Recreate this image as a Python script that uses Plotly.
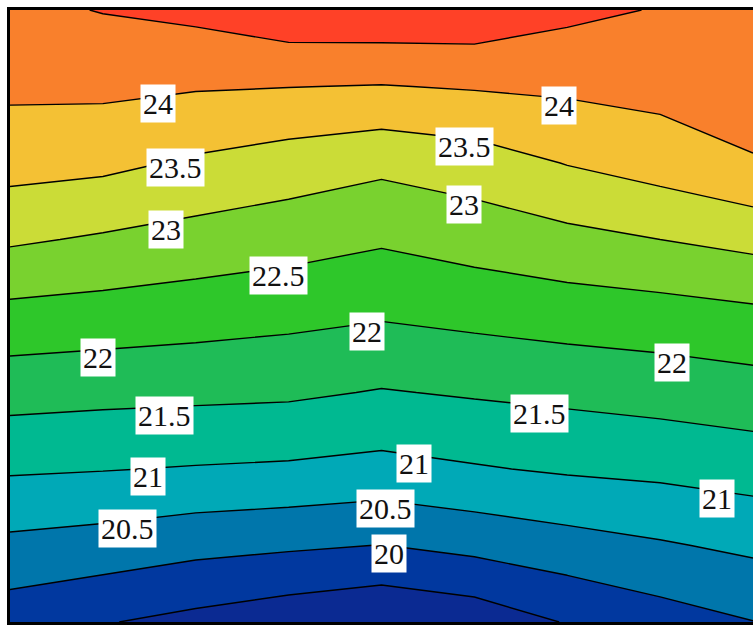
import numpy as np
import plotly.graph_objects as go

# grid coordinates (columns left->right, rows bottom->top)
x_vals = [0, 1, 2, 3, 4, 5, 6, 7, 8]
y_vals = [0, 1, 2, 3, 4, 5, 6, 7, 8]

# values, one list per row (bottom -> top)
z_row0 = [19.72, 19.53, 19.36, 19.19, 19.04, 19.19, 19.53, 19.78, 19.99]
z_row1 = [20.38, 20.29, 20.15, 20.07, 19.99, 20.14, 20.30, 20.45, 20.60]
z_row2 = [21.06, 21.02, 20.97, 20.93, 20.85, 20.96, 21.06, 21.12, 21.22]
z_row3 = [21.69, 21.64, 21.61, 21.58, 21.47, 21.55, 21.62, 21.70, 21.79]
z_row4 = [22.34, 22.28, 22.21, 22.13, 22.04, 22.13, 22.22, 22.28, 22.38]
z_row5 = [23.07, 22.94, 22.81, 22.70, 22.56, 22.71, 22.86, 23.00, 23.15]
z_row6 = [23.69, 23.62, 23.43, 23.27, 23.12, 23.26, 23.52, 23.72, 23.97]
z_row7 = [24.10, 24.11, 24.04, 24.01, 23.98, 24.04, 24.09, 24.16, 24.20]
z_row8 = [24.38, 24.52, 24.63, 24.86, 24.89, 24.87, 24.62, 24.47, 24.40]
z_rows = [z_row0, z_row1, z_row2, z_row3, z_row4, z_row5, z_row6, z_row7, z_row8]

level_start = 19.5
level_end = 24.5
level_step = 0.5

# one colour per band, lowest band first
band_colors = [
    "#0B2A92", "#01389F", "#0076AB", "#00A9B7", "#00B991", "#1FBC57",
    "#2EC72A", "#79D22F", "#CBDC37", "#F4C134", "#F9802C", "#FF4127",
]

# contour labels: level and horizontal position
label_levels = [24, 23.5, 24, 23.5, 23, 23, 22.5, 22, 22, 22,
                21.5, 21.5, 21, 21, 21, 20.5, 20.5, 20]
label_x = [1.59, 1.78, 5.91, 4.89, 4.89, 1.68, 2.89, 3.84, 0.95, 7.13,
           1.66, 5.70, 1.49, 4.35, 7.61, 1.26, 4.04, 4.08]

Z = np.array(z_rows, dtype=float)
X = np.array(x_vals, dtype=float)
Y = np.array(y_vals, dtype=float)


def level_y(xq, lev):
    """Find y where the grid surface reaches `lev` along x = xq."""
    col = np.array([np.interp(xq, X, Z[j]) for j in range(len(Y))])
    for j in range(len(Y) - 1):
        a, b = col[j], col[j + 1]
        if (a - lev) * (b - lev) <= 0 and a != b:
            return Y[j] + (lev - a) / (b - a) * (Y[j + 1] - Y[j])
    return None


n_bands = len(band_colors)
colorscale = [[k / (n_bands - 1), c] for k, c in enumerate(band_colors)]

fig = go.Figure()
fig.add_trace(go.Contour(
    x=x_vals, y=y_vals, z=z_rows,
    colorscale=colorscale,
    autocontour=False,
    contours=dict(start=level_start, end=level_end, size=level_step,
                  coloring="fill", showlabels=False),
    line=dict(color="black", width=1.4, smoothing=0),
    showscale=False,
    hoverinfo="skip",
))

annotations = []
for lev, lx in zip(label_levels, label_x):
    ly = level_y(lx, lev)
    if ly is None:
        continue
    annotations.append(dict(
        x=lx, y=ly, xref="x", yref="y",
        text=f"{lev:g}", showarrow=False,
        bgcolor="white", borderpad=2, yshift=-8,
        font=dict(family="Liberation Serif, Times New Roman, serif",
                  size=30, color="#111"),
    ))

axis_common = dict(showline=True, linewidth=3, linecolor="black",
                   showgrid=False, zeroline=False, showticklabels=False,
                   ticks="")
fig.update_layout(
    width=753, height=625,
    margin=dict(l=10, r=0, t=10, b=3),
    paper_bgcolor="white", plot_bgcolor="white",
    xaxis=dict(range=[0, 8], mirror=True, **axis_common),
    yaxis=dict(range=[0, 8], mirror=False, **axis_common),
    annotations=annotations,
    showlegend=False,
)

fig.write_html(
    "out.html",
    config={"displayModeBar": False},
    post_script="document.body.style.margin='0';document.body.style.overflow='hidden';",
)
